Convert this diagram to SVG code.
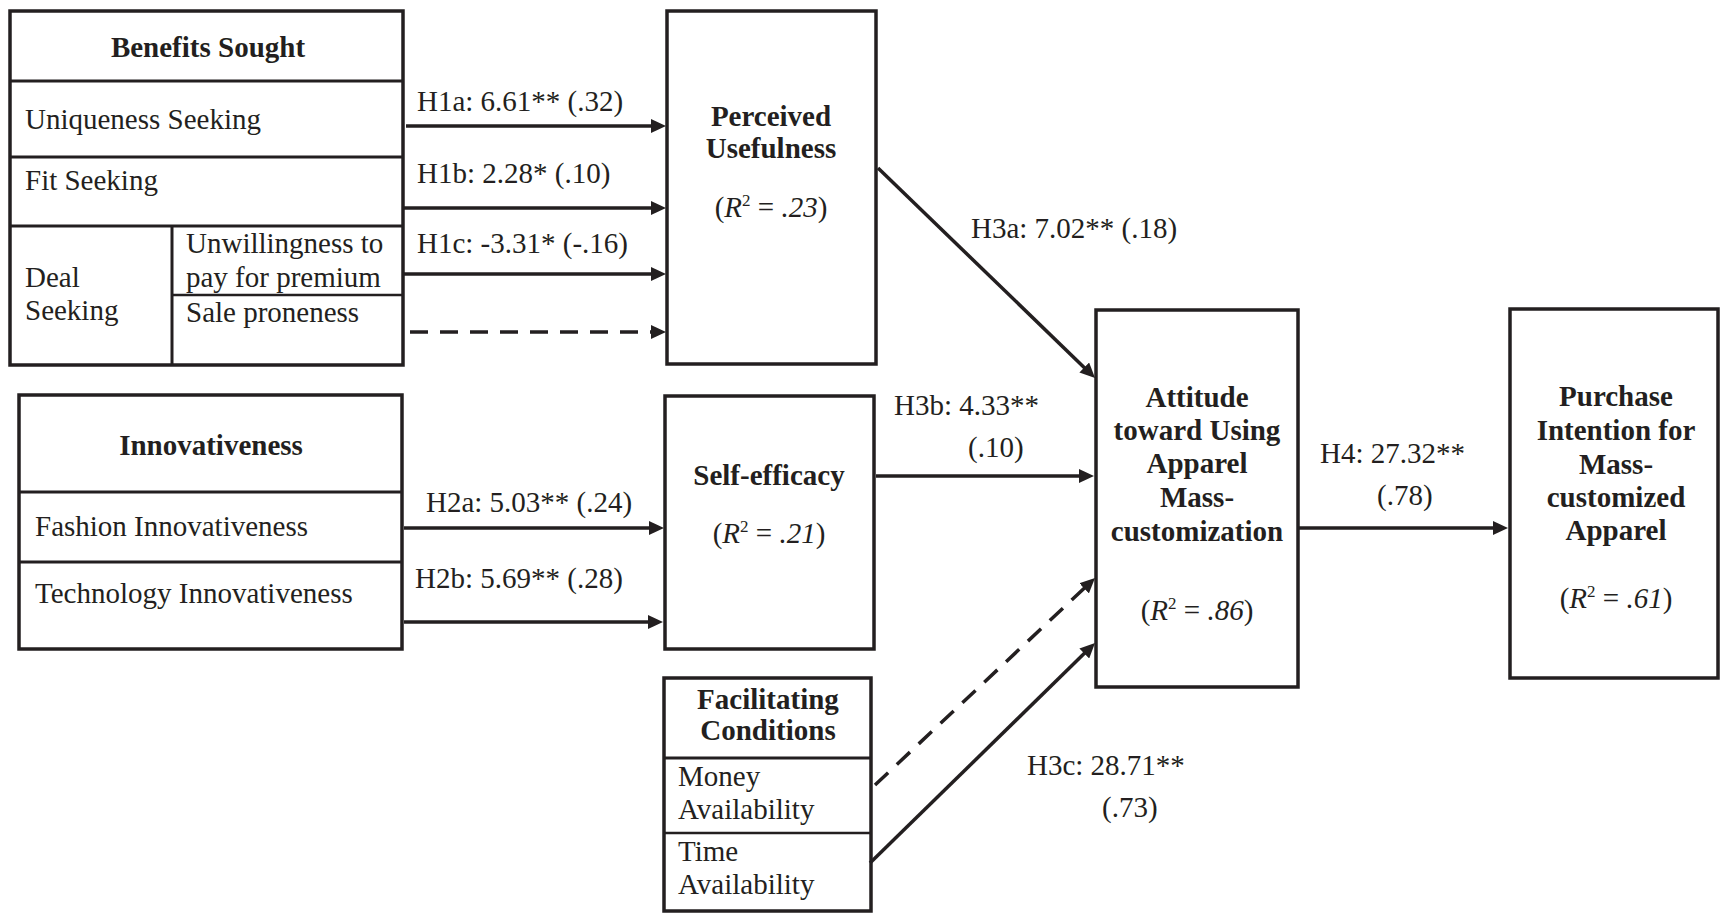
<svg xmlns="http://www.w3.org/2000/svg" width="1721" height="913" viewBox="0 0 1721 913">
<style>
text{font-family:"Liberation Serif","Times New Roman",serif;font-size:29px;fill:#231f20}
.b{font-weight:bold}
.m{text-anchor:middle}
.i{font-style:italic}
.box{fill:#fff;stroke:#231f20;stroke-width:3.5}
.div{stroke:#231f20;stroke-width:3;fill:none}
.div2{stroke:#231f20;stroke-width:2.5;fill:none}
.con{stroke:#231f20;stroke-width:3.5;fill:none;marker-end:url(#ah)}
.dash{stroke-dasharray:18 12}
</style>
<defs>
<marker id="ah" markerUnits="userSpaceOnUse" viewBox="0 0 15 14" markerWidth="15" markerHeight="14" refX="7" refY="7" orient="auto">
<path d="M0,0 L15,7 L0,14 Z" fill="#231f20"/>
</marker>
</defs>
<rect width="1721" height="913" fill="#fff"/>

<g id="benefits">
<rect class="box" x="10" y="11" width="393" height="354"/>
<line class="div" x1="10" y1="81" x2="403" y2="81"/>
<line class="div" x1="10" y1="157" x2="403" y2="157"/>
<line class="div" x1="10" y1="226" x2="403" y2="226"/>
<line class="div" x1="172" y1="226" x2="172" y2="365"/>
<line class="div2" x1="172" y1="295" x2="403" y2="295"/>
<text class="b m" x="208" y="57">Benefits Sought</text>
<text x="25" y="129">Uniqueness Seeking</text>
<text x="25" y="190">Fit Seeking</text>
<text x="25" y="287">Deal</text>
<text x="25" y="320">Seeking</text>
<text x="186" y="253">Unwillingness to</text>
<text x="186" y="287">pay for premium</text>
<text x="186" y="322">Sale proneness</text>
</g>

<g id="perceived">
<rect class="box" x="667" y="11" width="209" height="353"/>
<text class="b m" x="771" y="126">Perceived</text>
<text class="b m" x="771" y="158">Usefulness</text>
<text class="m" x="771" y="217">(<tspan class="i">R</tspan><tspan font-size="17" dy="-11">2</tspan><tspan dy="11"> = </tspan><tspan class="i">.23</tspan>)</text>
</g>

<g id="innovativeness">
<rect class="box" x="19" y="395" width="383" height="254"/>
<line class="div" x1="19" y1="492" x2="402" y2="492"/>
<line class="div" x1="19" y1="562" x2="402" y2="562"/>
<text class="b m" x="211" y="455">Innovativeness</text>
<text x="35" y="536">Fashion Innovativeness</text>
<text x="35" y="603">Technology Innovativeness</text>
</g>

<g id="selfefficacy">
<rect class="box" x="665" y="396" width="209" height="253"/>
<text class="b m" x="769" y="485">Self-efficacy</text>
<text class="m" x="769" y="543">(<tspan class="i">R</tspan><tspan font-size="17" dy="-11">2</tspan><tspan dy="11"> = </tspan><tspan class="i">.21</tspan>)</text>
</g>

<g id="facilitating">
<rect class="box" x="664" y="678" width="207" height="233"/>
<line class="div" x1="664" y1="758" x2="871" y2="758"/>
<line class="div2" x1="664" y1="833" x2="871" y2="833"/>
<text class="b m" x="768" y="709">Facilitating</text>
<text class="b m" x="768" y="740">Conditions</text>
<text x="678" y="786">Money</text>
<text x="678" y="819">Availability</text>
<text x="678" y="861">Time</text>
<text x="678" y="894">Availability</text>
</g>

<g id="attitude">
<rect class="box" x="1096" y="310" width="202" height="377"/>
<text class="b m" x="1197" y="407">Attitude</text>
<text class="b m" x="1197" y="440">toward Using</text>
<text class="b m" x="1197" y="473">Apparel</text>
<text class="b m" x="1197" y="507">Mass-</text>
<text class="b m" x="1197" y="541">customization</text>
<text class="m" x="1197" y="620">(<tspan class="i">R</tspan><tspan font-size="17" dy="-11">2</tspan><tspan dy="11"> = </tspan><tspan class="i">.86</tspan>)</text>
</g>

<g id="purchase">
<rect class="box" x="1510" y="309" width="208" height="369"/>
<text class="b m" x="1616" y="406">Purchase</text>
<text class="b m" x="1616" y="440">Intention for</text>
<text class="b m" x="1616" y="474">Mass-</text>
<text class="b m" x="1616" y="507">customized</text>
<text class="b m" x="1616" y="540">Apparel</text>
<text class="m" x="1616" y="608">(<tspan class="i">R</tspan><tspan font-size="17" dy="-11">2</tspan><tspan dy="11"> = </tspan><tspan class="i">.61</tspan>)</text>
</g>

<g id="connectors">
<line class="con" x1="406" y1="126" x2="658" y2="126"/>
<line class="con" x1="404" y1="208" x2="658" y2="208"/>
<line class="con" x1="404" y1="274" x2="658" y2="274"/>
<line class="con dash" x1="410" y1="332" x2="658" y2="332"/>
<line class="con" x1="404" y1="528" x2="656" y2="528"/>
<line class="con" x1="404" y1="622" x2="655" y2="622"/>
<line class="con" x1="878" y1="168" x2="1089.3" y2="372.4"/>
<line class="con" x1="876" y1="476" x2="1086" y2="476"/>
<line class="con dash" x1="875" y1="785" x2="1089.2" y2="583.5"/>
<line class="con" x1="870" y1="863" x2="1089.3" y2="648.6"/>
<line class="con" x1="1299" y1="528" x2="1500" y2="528"/>
<text x="417" y="111">H1a: 6.61** (.32)</text>
<text x="417" y="183">H1b: 2.28* (.10)</text>
<text x="417" y="253">H1c: -3.31* (-.16)</text>
<text x="426" y="512">H2a: 5.03** (.24)</text>
<text x="415" y="588">H2b: 5.69** (.28)</text>
<text x="971" y="238">H3a: 7.02** (.18)</text>
<text x="894" y="415">H3b: 4.33**</text>
<text x="968" y="457">(.10)</text>
<text x="1027" y="775">H3c: 28.71**</text>
<text x="1102" y="817">(.73)</text>
<text x="1320" y="463">H4: 27.32**</text>
<text x="1377" y="505">(.78)</text>
</g>
</svg>
